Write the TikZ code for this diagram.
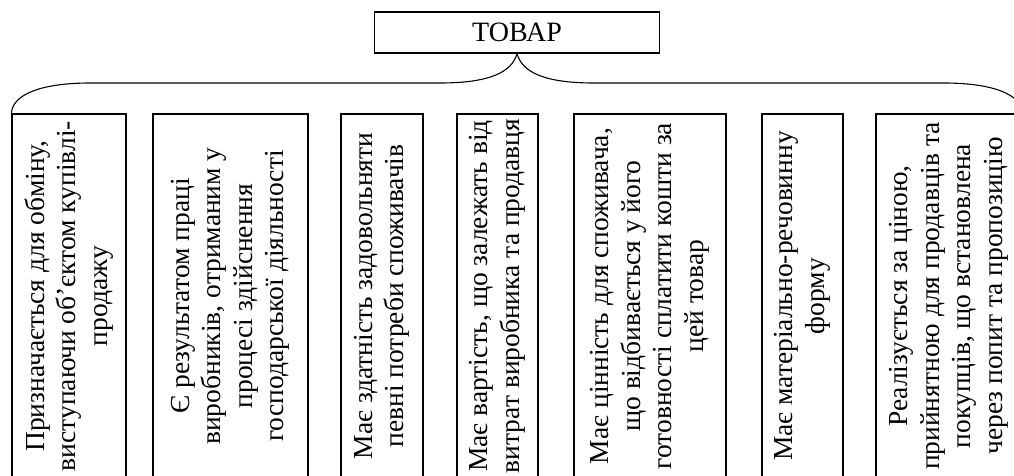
\documentclass[tikz,border=0pt]{standalone}
\usepackage{fontspec}
\setmainfont{Liberation Serif}
\begin{document}
\begin{tikzpicture}[x=1pt,y=1pt,
  line/.style={line width=1.1pt, draw=black},
  box/.style={line, draw, rotate=90, minimum width=364pt, align=center, inner sep=0pt,
    font=\fontsize{27.5}{31.5}\selectfont},
  topbox/.style={line, draw, minimum width=285pt, minimum height=41pt, inner sep=0pt,
    font=\fontsize{28}{30}\selectfont}]
\useasboundingbox (0,0) rectangle (1014,-475);
\clip (0,0) rectangle (1014,-475);
\node[topbox] (tovar) at (517,-32.5) {ТОВАР};
\node[box, minimum height=114pt] (b1) at (69,-296) {Призначається для обміну,\\виступаючи об’єктом купівлі-\\продажу};
\node[box, minimum height=155pt] (b2) at (230.5,-296) {Є результатом праці\\виробників, отриманим у\\процесі здійснення\\господарської діяльності};
\node[box, minimum height=82pt] (b3) at (382,-296) {Має здатність задовольняти\\певні потреби споживачів};
\node[box, minimum height=81pt] (b4) at (497.5,-296) {Має вартість, що залежать від\\витрат виробника та продавця};
\node[box, minimum height=152pt] (b5) at (650,-296) {Має цінність для споживача,\\що відбивається у його\\готовності сплатити кошти за\\цей товар};
\node[box, minimum height=81pt] (b6) at (802.5,-296) {Має матеріально-речовинну\\форму};
\node[box, minimum height=146pt] (b7) at (949,-296) {Реалізується за ціною,\\прийнятною для продавців та\\покупців, що встановлена\\через попит та пропозицію};
\draw[line] (b1.north east) .. controls (12,-95) and (40,-83) .. (90,-83) -- (440,-83)
  .. controls (490,-83) and (512,-72) .. (tovar.south)
  .. controls (522,-72) and (544,-83) .. (594,-83) -- (944,-83)
  .. controls (994,-83) and (1022,-95) .. (b7.south east);
\end{tikzpicture}
\end{document}
